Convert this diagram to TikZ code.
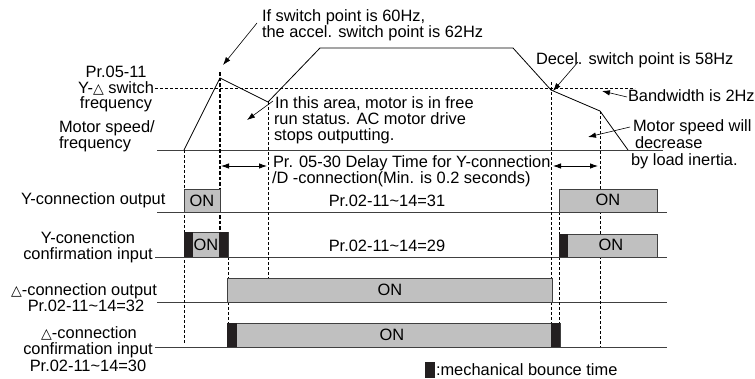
\documentclass[tikz,border=0pt]{standalone}
\usepackage{fontspec}
\setmainfont{Liberation Sans}
\newfontfamily\dejavu{DejaVu Sans}
\usetikzlibrary{arrows.meta}
\newcommand{\fs}{\fontsize{16.4}{16}\selectfont}
\newcommand{\tri}{{\dejavu\fontsize{14}{14}\selectfont △}}
\definecolor{boxgray}{RGB}{192,192,192}
\definecolor{bouncecol}{RGB}{35,31,32}
\begin{document}
\begin{tikzpicture}[x=1pt,y=-1pt,
 lbl/.style={inner sep=0pt,outer sep=0pt,font=\fs},
 baseln/.style={draw=black!75,line width=0.9pt},
 curve/.style={draw=black,line width=0.8pt},
 vdash/.style={draw=black,line width=0.8pt,dash pattern=on 3pt off 2pt},
 bolddash/.style={draw=black,line width=2pt,dash pattern=on 3.5pt off 2pt},
 onbox/.style={draw=black!75,line width=0.9pt,fill=boxgray},
 bounce/.style={fill=bouncecol,draw=none},
 arr/.style={-{Latex[length=8pt,width=5.5pt]},line width=0.6pt},
 darr/.style={{Latex[length=8pt,width=5.5pt]}-{Latex[length=8pt,width=5.5pt]},line width=0.8pt}]
\useasboundingbox (0,0) rectangle (755,378);

% horizontal dashed switch frequency line
\draw[vdash] (155,88) -- (635,88);

% baselines
\draw[baseln] (157,150) -- (663,150);
\draw[baseln] (157,212) -- (667,212);
\draw[baseln] (155,257) -- (667,257);
\draw[baseln] (157,302) -- (667,302);
\draw[baseln] (155,347) -- (667,347);

% vertical dashed lines
\draw[vdash] (184,150) -- (184,343);
\draw[bolddash] (220,72) -- (220,232);
\draw[vdash] (228,257) -- (228,323);
\draw[vdash] (268,102) -- (268,278);
\draw[vdash] (551,82) -- (551,323);
\draw[vdash] (559,212) -- (559,323);
\draw[vdash] (600,111) -- (600,347);

% speed curve
\coordinate (s0) at (184,150);
\coordinate (s1) at (220,78);
\coordinate (s2) at (268,102);
\coordinate (s3) at (320,48);
\coordinate (s4) at (513,48);
\coordinate (s5) at (551,90);
\coordinate (s6) at (600,111);
\coordinate (s7) at (628,150);
\draw[curve] (s0) -- (s1) -- (s2) -- (s3) -- (s4) -- (s5) -- (s6) -- (s7);

% boxes
\draw[onbox] (184,189) rectangle (220,212);
\draw[onbox] (184,232) rectangle (228,257);
\fill[bounce] (184,232) rectangle (193,257);
\fill[bounce] (219,232) rectangle (228,257);
\draw[onbox] (227,278) rectangle (552,302);
\draw[onbox] (227,323) rectangle (560,347);
\fill[bounce] (227,323) rectangle (237,347);
\fill[bounce] (551,323) rectangle (560,347);
\draw[onbox] (559,189) rectangle (657,212);
\draw[onbox] (559,234) rectangle (657,257);
\fill[bounce] (559,234) rectangle (568,257);
\fill[bounce] (425,362) rectangle (435,378);

\node[lbl] (on1) at (202,201) {ON};
\node[lbl] (on2) at (206,245) {ON};
\node[lbl] (on3) at (390,290) {ON};
\node[lbl] (on4) at (392,335) {ON};
\node[lbl] (on5) at (608,200) {ON};
\node[lbl] (on6) at (611,245) {ON};

% delay arrows
\coordinate (d1a) at (221,166); \coordinate (d1b) at (267,166);
\coordinate (d2a) at (553,166); \coordinate (d2b) at (598,166);
\draw[darr] (d1a) -- (d1b);
\draw[darr] (d2a) -- (d2b);

% annotation arrows
\coordinate (a1s) at (257,23); \coordinate (a1e) at (223,65);
\draw[arr] (a1s) -- (a1e);
\coordinate (a2s) at (273,101); \coordinate (a2e) at (247,120);
\draw[arr] (a2s) -- (a2e);
\coordinate (a3s) at (578,62); \coordinate (a3e) at (553,91);
\draw[arr] (a3s) -- (a3e);
\coordinate (a4s) at (627,97); \coordinate (a4e) at (602,91);
\draw[arr] (a4s) -- (a4e);
\coordinate (a5s) at (630,127); \coordinate (a5e) at (588,137);
\draw[arr] (a5s) -- (a5e);

% texts
\node[lbl,anchor=base west] (t1) at (262,21) {If switch point is 60Hz,};
\node[lbl,anchor=base west] (t2) at (262,37) {the accel. switch point is 62Hz};
\node[lbl,anchor=base west] (t3) at (536,64) {Decel. switch point is 58Hz};
\node[lbl,anchor=base] (t4) at (116,77) {Pr.05-11};
\node[lbl,anchor=base] (t5) at (116,93) {Y-\tri\ switch};
\node[lbl,anchor=base] (t6) at (116,108) {frequency};
\node[lbl,anchor=base west] (t7) at (59,132) {Motor speed/};
\node[lbl,anchor=base west] (t8) at (59,148) {frequency};
\node[lbl,anchor=base west] (t9) at (275,108) {In this area, motor is in free};
\node[lbl,anchor=base west] (t10) at (274,124) {run status. AC motor drive};
\node[lbl,anchor=base west] (t11) at (274,140) {stops outputting.};
\node[lbl,anchor=base west] (t12) at (273,167) {Pr. 05-30 Delay Time for Y-connection};
\node[lbl,anchor=base west] (t13) at (272,183) {/D -connection(Min. is 0.2 seconds)};
\node[lbl,anchor=base west] (t14) at (628,101) {Bandwidth is 2Hz};
\node[lbl,anchor=base west] (t15) at (633,131) {Motor speed will};
\node[lbl,anchor=base west] (t16) at (635,148) {decrease};
\node[lbl,anchor=base west] (t17) at (631,165) {by load inertia.};
\node[lbl,anchor=base west] (t18) at (21,204) {Y-connection output};
\node[lbl,anchor=base] (t19) at (387,206) {Pr.02-11\textasciitilde14=31};
\node[lbl,anchor=base] (t20) at (88,243) {Y-conenction};
\node[lbl,anchor=base] (t21) at (88,259) {confirmation input};
\node[lbl,anchor=base] (t22) at (387,251) {Pr.02-11\textasciitilde14=29};
\node[lbl,anchor=base] (t23) at (84,295) {\tri-connection output};
\node[lbl,anchor=base] (t24) at (86,311) {Pr.02-11\textasciitilde14=32};
\node[lbl,anchor=base] (t25) at (89,338) {\tri-connection};
\node[lbl,anchor=base] (t26) at (88,354) {confirmation input};
\node[lbl,anchor=base] (t27) at (88,371) {Pr.02-11\textasciitilde14=30};
\node[lbl,anchor=base west] (t28) at (436,375) {:mechanical bounce time};
\end{tikzpicture}
\end{document}
